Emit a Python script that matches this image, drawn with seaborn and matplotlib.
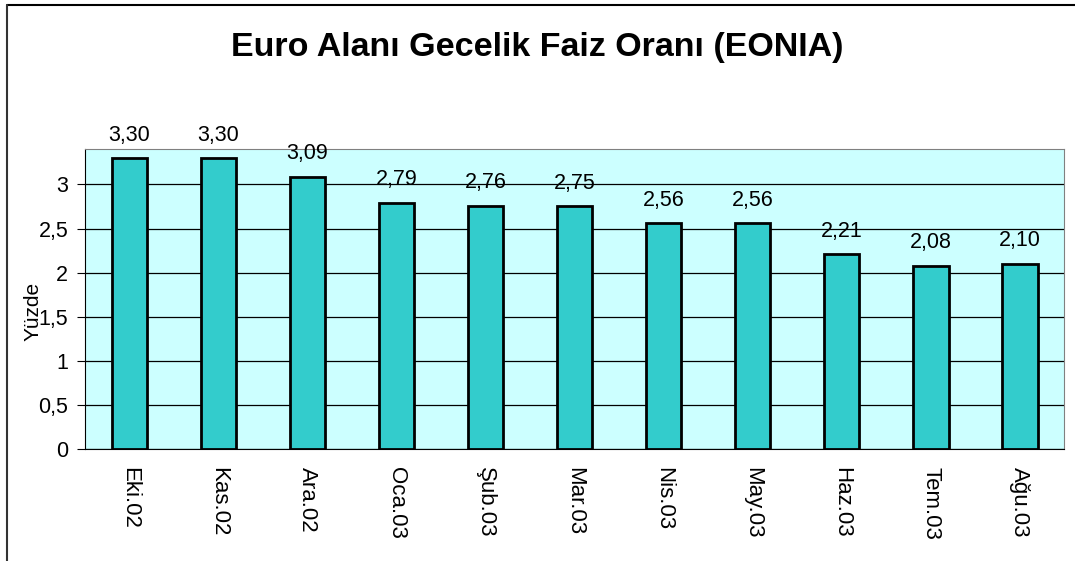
import numpy as np
import matplotlib
matplotlib.use("Agg")
import matplotlib.pyplot as plt
import seaborn as sns
from matplotlib.lines import Line2D

months = ["Eki.02", "Kas.02", "Ara.02", "Oca.03", "Şub.03", "Mar.03",
          "Nis.03", "May.03", "Haz.03", "Tem.03", "Ağu.03"]
rates = [3.30, 3.30, 3.09, 2.79, 2.76, 2.75, 2.56, 2.56, 2.21, 2.08, 2.10]
y_ticks = [0, 0.5, 1, 1.5, 2, 2.5, 3]
y_tick_labels = ["0", "0,5", "1", "1,5", "2", "2,5", "3"]

sns.set_style("white")
plt.rcParams['font.family'] = ['Liberation Sans', 'DejaVu Sans']
plt.rcParams['text.color'] = 'black'
plt.rcParams['axes.labelcolor'] = 'black'
plt.rcParams['xtick.color'] = 'black'
plt.rcParams['ytick.color'] = 'black'

fig = plt.figure(figsize=(10.75, 5.61), dpi=100)
ax = fig.add_axes([0.079, 0.2, 0.911, 0.534])
ax.set_facecolor('#CCFFFF')

sns.barplot(x=months, y=rates, color='#33CCCC', width=0.4,
            edgecolor='black', linewidth=2, saturation=1, ax=ax, zorder=3)

# data labels with decimal comma
labels = [f"{v:.2f}".replace('.', ',') for v in rates]
ax.bar_label(ax.containers[0], labels=labels, padding=9, fontsize=15.5)

ax.set_ylim(0, 3.4)
ax.set_xlim(-0.5, len(months) - 0.5)
ax.set_yticks(y_ticks)
ax.set_yticklabels(y_tick_labels, fontsize=15.5)
ax.yaxis.grid(True, color='black', linewidth=0.9, zorder=0)
ax.set_axisbelow(True)

ax.set_xticks(range(len(months)))
ax.set_xticklabels(months, rotation=270, fontsize=16)
ax.tick_params(axis='x', which='major', length=0, pad=13)
ax.set_xticks(np.arange(-0.5, len(months), 1), minor=True)
ax.tick_params(axis='x', which='minor', length=6, direction='out', color='black')
ax.tick_params(axis='y', length=6, direction='out', color='black', left=True, pad=6)

for s in ['top', 'right']:
    ax.spines[s].set_color('#808080')
for s in ['left', 'bottom']:
    ax.spines[s].set_color('black')

ax.set_ylabel("Yüzde", fontsize=15)
ax.yaxis.set_label_coords(-0.043, 0.46)

fig.text(0.5, 0.915, "Euro Alanı Gecelik Faiz Oranı (EONIA)",
         ha='center', va='center', fontsize=24.5, fontweight='bold')

# outer chart frame (top and left edges visible)
fig.add_artist(Line2D([0.0065, 1.0], [0.991, 0.991], transform=fig.transFigure,
                      color='black', linewidth=1.5))
fig.add_artist(Line2D([0.0065, 0.0065], [0.0, 0.991], transform=fig.transFigure,
                      color='#333333', linewidth=1.5))

fig.savefig("out.png", dpi=100)
